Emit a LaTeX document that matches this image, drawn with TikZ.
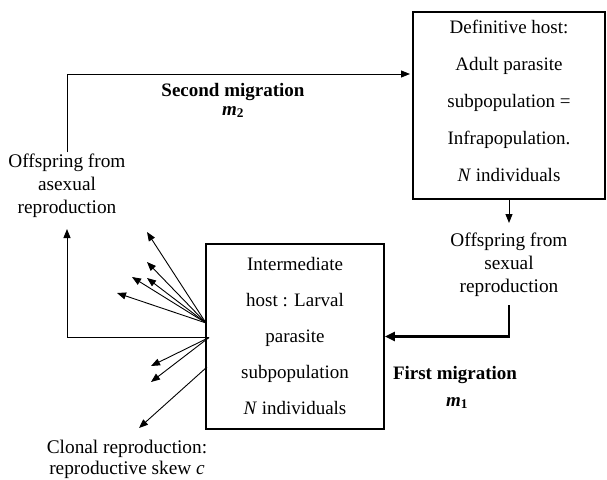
\documentclass[tikz,border=0pt]{standalone}
\usepackage{fontspec}
\setmainfont{Liberation Serif}
\usetikzlibrary{arrows.meta,calc}
\begin{document}
\begin{tikzpicture}[x=1pt,y=-1pt,
  txt/.style={align=center,inner sep=0pt,font=\fontsize{19.3}{23}\selectfont},
  boxtxt/.style={align=center,inner sep=0pt},
  conn/.style={line width=0.9pt,-{Triangle[length=9pt,width=7pt]}},
  thickconn/.style={line width=2.4pt,-{Triangle[length=10pt,width=9pt]}},
  lbl/.style={align=center,inner sep=0pt,font=\fontsize{19}{23}\selectfont\bfseries}]
\useasboundingbox (0,0) rectangle (607,479);
% boxes
\node[draw,line width=1.6pt,minimum width=192pt,minimum height=187pt,inner sep=0pt] (def) at (509,105.5) {};
\node[boxtxt,font=\fontsize{19}{37}\selectfont] (deftext) at (509,101) {Definitive host:\\Adult parasite\\subpopulation =\\Infrapopulation.\\\textit{N} individuals};
\node[draw,line width=1.6pt,minimum width=178pt,minimum height=185pt,inner sep=0pt] (inter) at (295,336.5) {};
\node[boxtxt,font=\fontsize{19}{36}\selectfont] (intertext) at (295,336) {Intermediate\\host : Larval\\parasite\\subpopulation\\\textit{N} individuals};
% text nodes
\node[txt] (sex) at (509,265) {Offspring from\\sexual\\reproduction};
\node[txt] (asex) at (67,186) {Offspring from\\asexual\\reproduction};
\node[txt,font=\fontsize{19.3}{21}\selectfont] (clonal) at (127,459) {Clonal reproduction:\\reproductive skew \textit{c}};
\node[lbl] (m2lbl) at (233,92) {Second migration};
\node[lbl] (m2) at (233,112) {\textit{m}\textsubscript{2}};
\node[lbl] (m1lbl) at (455,375) {First migration};
\node[lbl] (m1) at (457,403) {\textit{m}\textsubscript{1}};
% coordinates
\coordinate (m2end) at (410,74);
\coordinate (sexin) at (509,223);
\coordinate (sexout) at (509,305);
\coordinate (asexin) at (67,229);
\coordinate (asexout) at (67,152);
\coordinate (fanA) at (206,323);
\coordinate (fanB) at (209,337.5);
\coordinate (fanC) at (207,367);
\coordinate (a1) at (147,232);
\coordinate (a2) at (147,262);
\coordinate (a3) at (132,277);
\coordinate (a4) at (147,278);
\coordinate (a5) at (117,293);
\coordinate (b1) at (151,366);
\coordinate (b2) at (151,382);
\coordinate (b3) at (139,428);
% connectors
\draw[conn] (asexout) |- (m2end);
\draw[conn] (def.south) -- (sexin);
\draw[thickconn] (sexout) |- (inter.east);
\draw[conn] (fanB) -| (asexin);
\foreach \p in {a1,a2,a3,a4,a5} \draw[conn] (fanA) -- (\p);
\draw[conn] (fanB) -- (b1);
\draw[conn] (fanB) -- (b2);
\draw[conn] (fanC) -- (b3);
\end{tikzpicture}
\end{document}
